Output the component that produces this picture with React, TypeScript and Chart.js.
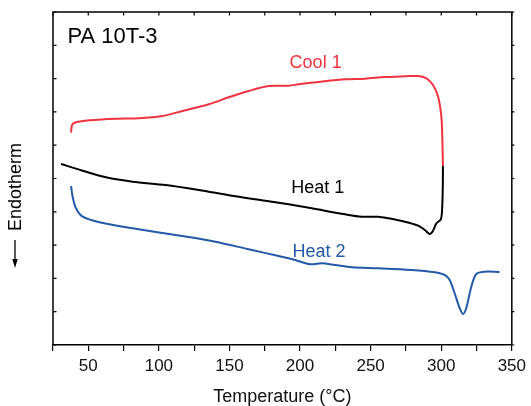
import React, { useEffect, useRef } from 'react';
import { Chart, registerables } from 'chart.js';

Chart.register(...registerables);

const FONT = 'Arial, "Liberation Sans", Helvetica, sans-serif';

// Temperature axis
const xMin = 25;
const xMax = 350;
const xStep = 25;
const yMin = 0;
const yMax = 10;

// Cool 1 (from 301 °C down to 38 °C)
const cool1T = [301.2, 300.8, 300.1, 297.8, 294.2, 289.5, 283.6, 274.2, 260.1, 246.0, 231.9, 213.0, 198.9, 191.9, 177.8, 163.6, 149.5, 135.4, 116.6, 102.4, 86.0, 69.5, 50.7, 41.3, 38.5, 37.8];
const cool1Y = [5.375, 6.156, 6.856, 7.456, 7.808, 8.009, 8.078, 8.069, 8.048, 7.997, 7.979, 7.898, 7.829, 7.787, 7.778, 7.628, 7.438, 7.228, 7.027, 6.877, 6.808, 6.796, 6.748, 6.688, 6.607, 6.375];

// Heat 1
const heat1T = [30.7, 46.0, 62.5, 81.3, 104.8, 128.3, 151.8, 175.4, 191.9, 208.3, 231.9, 243.6, 255.4, 262.5, 274.2, 283.6, 288.4, 291.9, 294.2, 296.6, 299.7, 300.6, 301.1, 301.2];
const heat1Y = [5.435, 5.234, 5.036, 4.904, 4.805, 4.655, 4.483, 4.333, 4.225, 4.105, 3.925, 3.853, 3.853, 3.805, 3.703, 3.583, 3.453, 3.333, 3.432, 3.655, 3.775, 4.054, 4.754, 5.375];

// Heat 2
const heat2T = [37.8, 38.9, 41.3, 46.0, 57.8, 81.3, 116.6, 140.1, 163.6, 184.8, 196.6, 207.2, 215.4, 224.8, 236.6, 255.4, 278.9, 295.4, 302.5, 306.0, 309.5, 313.1, 315.4, 317.7, 321.3, 324.8, 330.7, 341.3];
const heat2Y = [4.775, 4.453, 4.105, 3.853, 3.685, 3.505, 3.273, 3.102, 2.874, 2.673, 2.553, 2.423, 2.453, 2.402, 2.333, 2.303, 2.252, 2.183, 2.102, 1.952, 1.553, 1.102, 0.931, 1.102, 1.751, 2.132, 2.201, 2.192];

const RED = '#EF3340';
const BLUE = '#2458A8';
const BLACK = '#000000';

// Curve labels
const labelTexts = ['PA 10T-3', 'Cool 1', 'Heat 1', 'Heat 2'];
const labelT = [35.2, 192.6, 193.7, 194.7];
const labelY = [9.07, 8.32, 4.556, 2.652];
const labelColors = [BLACK, RED, BLACK, BLUE];
const labelSizes = [22, 18, 18, 18];

const xTitle = 'Temperature (\u00B0C)';
const yTitle = 'Endotherm';

const pts = (t: number[], y: number[]) => t.map((v, i) => ({ x: v, y: y[i] }));

const framePlugin = {
  id: 'frame',
  afterDraw(chart: any) {
    const { ctx, chartArea } = chart;
    const { left, right, top, bottom } = chartArea;
    const xs = chart.scales.x;
    const ys = chart.scales.y;
    ctx.save();
    ctx.strokeStyle = '#000';
    ctx.lineWidth = 1.5;
    ctx.beginPath();
    ctx.moveTo(left, bottom);
    ctx.lineTo(left, top);
    ctx.lineTo(right, top);
    ctx.lineTo(right, bottom);
    ctx.stroke();
    // top inward ticks
    ctx.lineWidth = 1.2;
    ctx.beginPath();
    for (let v = xMin; v <= xMax; v += xStep) {
      const px = xs.getPixelForValue(v);
      ctx.moveTo(px, top);
      ctx.lineTo(px, top + 3.5);
    }
    // left inward and right outward ticks
    for (let v = yMin; v <= yMax; v += 1) {
      const py = ys.getPixelForValue(v);
      ctx.moveTo(left, py);
      ctx.lineTo(left + 3.5, py);
      ctx.moveTo(right, py);
      ctx.lineTo(right + 2.5, py);
    }
    ctx.stroke();

    // labels
    ctx.textAlign = 'left';
    ctx.textBaseline = 'alphabetic';
    for (let i = 0; i < labelTexts.length; i++) {
      ctx.fillStyle = labelColors[i];
      ctx.font = `${labelSizes[i]}px ${FONT}`;
      ctx.fillText(labelTexts[i], xs.getPixelForValue(labelT[i]), ys.getPixelForValue(labelY[i]));
    }

    // y title with arrow
    ctx.fillStyle = '#000';
    ctx.font = `18px ${FONT}`;
    ctx.save();
    ctx.translate(16, 187);
    ctx.rotate(-Math.PI / 2);
    ctx.textAlign = 'center';
    ctx.textBaseline = 'middle';
    ctx.fillText(yTitle, 0, 0);
    ctx.restore();
    ctx.strokeStyle = '#000';
    ctx.lineWidth = 1.3;
    ctx.beginPath();
    ctx.moveTo(15, 240);
    ctx.lineTo(15, 262);
    ctx.stroke();
    ctx.beginPath();
    ctx.moveTo(15, 268);
    ctx.lineTo(12.3, 259);
    ctx.lineTo(17.7, 259);
    ctx.closePath();
    ctx.fill();
    ctx.restore();
  },
};

export default function App() {
  const ref = useRef<HTMLCanvasElement | null>(null);
  useEffect(() => {
    if (!ref.current) return;
    const chart = new Chart(ref.current, {
      type: 'line',
      data: {
        datasets: [
          { label: 'Cool 1', data: pts(cool1T, cool1Y), borderColor: RED, borderWidth: 2, pointRadius: 0, tension: 0.3, fill: false },
          { label: 'Heat 1', data: pts(heat1T, heat1Y), borderColor: BLACK, borderWidth: 2, pointRadius: 0, tension: 0.3, fill: false },
          { label: 'Heat 2', data: pts(heat2T, heat2Y), borderColor: BLUE, borderWidth: 2, pointRadius: 0, tension: 0.3, fill: false },
        ],
      },
      options: {
        animation: false,
        responsive: true,
        maintainAspectRatio: false,
        layout: { padding: { left: 53, right: 17, top: 12, bottom: 0 } },
        plugins: { legend: { display: false }, tooltip: { enabled: false } },
        scales: {
          x: {
            type: 'linear',
            position: 'bottom',
            min: xMin,
            max: xMax,
            ticks: {
              stepSize: xStep,
              autoSkip: false,
              maxRotation: 0,
              padding: 5,
              color: '#111',
              font: { family: FONT, size: 17 },
              callback: (v: any) => (Number(v) % 50 === 0 ? String(v) : ''),
            },
            grid: { drawOnChartArea: false, drawTicks: true, tickLength: 6, color: '#000', lineWidth: 1.2 },
            border: { display: true, color: '#000', width: 1.5 },
            title: { display: true, text: xTitle, color: '#111', font: { family: FONT, size: 18 }, padding: { top: 0, bottom: -2 } },
            afterFit: (s: any) => { s.height = 61; },
          },
          y: {
            type: 'linear',
            min: yMin,
            max: yMax,
            display: false,
          },
        },
      },
      plugins: [framePlugin],
    } as any);
    return () => chart.destroy();
  }, []);
  return (
    <div style={{ position: 'fixed', left: 0, top: 0, width: 531, height: 406, background: '#fff' }}>
      <canvas ref={ref} />
    </div>
  );
}
